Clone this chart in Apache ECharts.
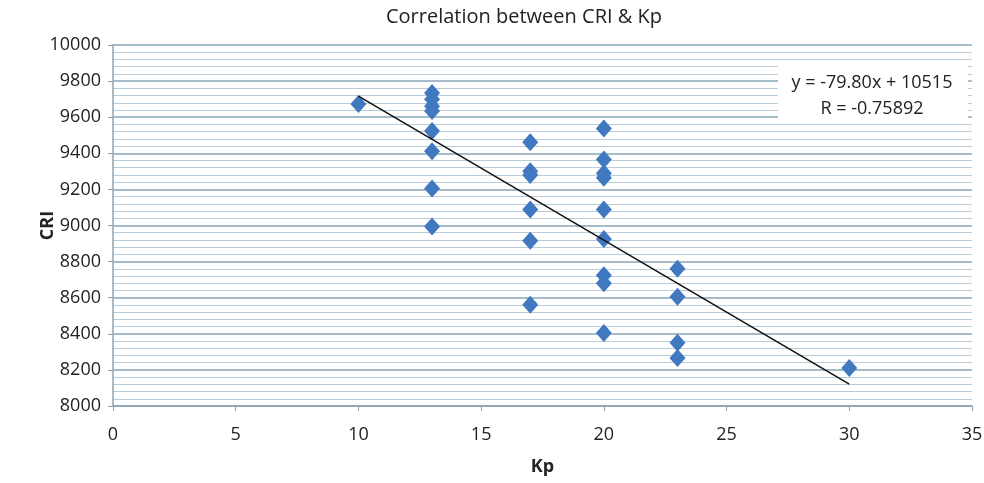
<!DOCTYPE html>
<html>
<head>
<meta charset="utf-8">
<script src="https://cdn.jsdelivr.net/npm/echarts@6/dist/echarts.min.js"></script>
<style>
  html, body { margin: 0; padding: 0; background: #fff; }
  #chart { width: 984px; height: 483px; }
</style>
</head>
<body>
<div id="chart"></div>
<script>
// Kp / CRI pairs
const kpValues = [10, 13, 13, 13, 13, 13, 13, 13, 13,
  17, 17, 17, 17, 17, 17,
  20, 20, 20, 20, 20, 20, 20, 20, 20,
  23, 23, 23, 23, 30]
const criValues = [9673, 9734, 9700, 9660, 9635, 9523, 9412, 9205, 8995,
  9461, 9300, 9280, 9089, 8916, 8561,
  9538, 9365, 9290, 9265, 9088, 8925, 8725, 8680, 8405,
  8761, 8605, 8350, 8266, 8211]

// trendline from the fitted equation
const trendSlope = [-79.80]
const trendIntercept = [10515]
const trendRange = [10, 30]
const equationText = ['y = -79.80x + 10515', 'R = -0.75892']

const points = kpValues.map((k, i) => [k, criValues[i]])
const trendPoints = trendRange.map(x => [x, trendSlope[0] * x + trendIntercept[0]])

const chart = echarts.init(document.getElementById('chart'))
const font = 'Open Sans'

chart.setOption({
  animation: false,
  textStyle: { fontFamily: font },
  title: {
    text: 'Correlation between CRI & Kp',
    left: 519,
    top: 2,
    textAlign: 'center',
    textStyle: { fontFamily: font, fontSize: 20, fontWeight: 'normal', color: '#222' }
  },
  grid: { left: 113, right: 12, top: 45, bottom: 77, outerBoundsMode: 'none' },
  xAxis: {
    type: 'value',
    min: 0,
    max: 35,
    interval: 5,
    name: 'Kp',
    nameLocation: 'middle',
    nameGap: 52,
    nameTextStyle: { fontFamily: font, fontSize: 18, fontWeight: 'bold', color: '#222' },
    axisLine: { onZero: false, lineStyle: { color: '#8ea3b3', width: 1.5 } },
    axisTick: { show: true, length: 5, lineStyle: { color: '#8ea3b3' } },
    axisLabel: { fontSize: 18, color: '#222', margin: 20 },
    splitLine: { show: false }
  },
  yAxis: {
    type: 'value',
    min: 8000,
    max: 10000,
    interval: 200,
    name: 'CRI',
    nameLocation: 'middle',
    nameGap: 56,
    nameMoveOverlap: false,
    nameTextStyle: { fontFamily: font, fontSize: 18, fontWeight: 'bold', color: '#222' },
    axisLine: { show: true, lineStyle: { color: '#8ea3b3', width: 1.5 } },
    axisTick: { show: true, length: 5, lineStyle: { color: '#8ea3b3' } },
    axisLabel: { fontSize: 18, color: '#222', margin: 12, formatter: v => String(v) },
    splitLine: { show: true, lineStyle: { color: '#8aa6b8', width: 1.5 } },
    minorTick: { show: false, splitNumber: 5 },
    minorSplitLine: { show: true, lineStyle: { color: '#b9ccd9', width: 1.2 } }
  },
  graphic: [{
    type: 'rect',
    x: 778,
    y: 62,
    shape: { width: 190, height: 60 },
    style: { fill: '#fff' },
    z: 5
  }, {
    type: 'text',
    x: 872,
    y: 70,
    z: 6,
    style: {
      text: equationText.join('\n'),
      fontFamily: font,
      fontSize: 18,
      lineHeight: 26,
      fill: '#222',
      align: 'center'
    }
  }],
  series: [{
    type: 'scatter',
    data: points,
    symbol: 'diamond',
    symbolSize: [16, 18],
    itemStyle: { color: '#4079c0', opacity: 1 },
    z: 3
  }, {
    type: 'line',
    data: trendPoints,
    symbol: 'none',
    lineStyle: { color: '#111', width: 1.5 },
    z: 4
  }]
})
</script>
</body>
</html>
